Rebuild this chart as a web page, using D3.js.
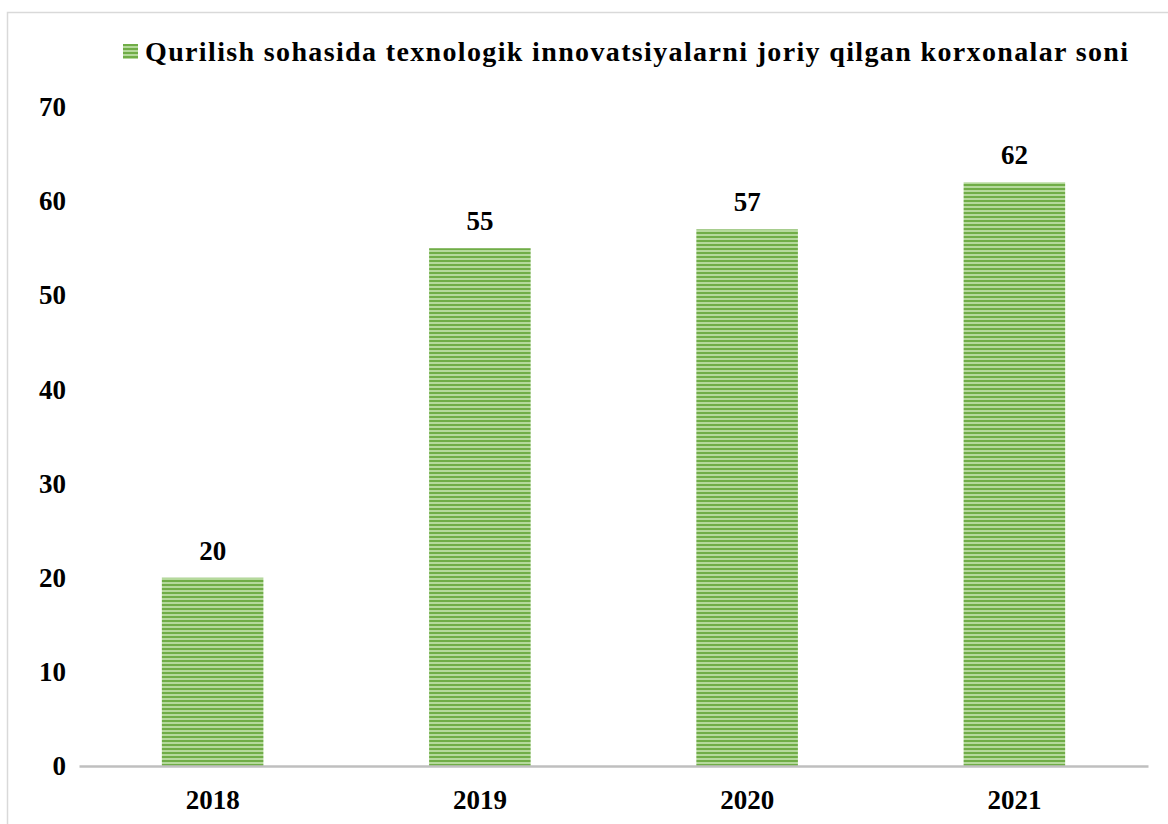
<!DOCTYPE html>
<html lang="uz">
<head>
<meta charset="UTF-8">
<title>Qurilish sohasida texnologik innovatsiyalar</title>
<script src="https://cdn.jsdelivr.net/npm/d3@7"></script>
<style>
  body { margin: 0; background: #fff; }
  svg text { font-family: "Liberation Serif", "Times New Roman", "DejaVu Serif", serif; font-weight: bold; fill: #000; }
</style>
</head>
<body>
<svg id="chart" width="1168" height="824"></svg>
<script>
// data
var years = ["2018", "2019", "2020", "2021"];
var counts = [20, 55, 57, 62];
var yTicks = [0, 10, 20, 30, 40, 50, 60, 70];
var seriesName = "Qurilish sohasida texnologik innovatsiyalarni joriy qilgan korxonalar soni";

var svg = d3.select("#chart");

// outer frame
svg.append("rect")
    .attr("x", 7.5).attr("y", 12.5)
    .attr("width", 1170).attr("height", 830)
    .attr("fill", "none")
    .attr("stroke", "#d9d9d9")
    .attr("stroke-width", 1.5);

// striped fill
var defs = svg.append("defs");
var pat = defs.append("pattern")
    .attr("id", "stripes")
    .attr("patternUnits", "userSpaceOnUse")
    .attr("width", 8).attr("height", 4);
pat.append("rect").attr("width", 8).attr("height", 4).attr("fill", "#b5d99c");
pat.append("rect").attr("y", 0).attr("width", 8).attr("height", 2).attr("fill", "#70ad47");

var x = d3.scaleBand()
    .domain(years)
    .range([79, 1148])
    .paddingInner(0.62)
    .paddingOuter(0.31);

var y = d3.scaleLinear()
    .domain([0, 70])
    .range([766, 107]);

// y tick labels (no axis line)
var yAxis = svg.append("g")
    .attr("transform", "translate(66,0)")
    .call(d3.axisLeft(y).tickValues(yTicks).tickSize(0).tickPadding(0));
yAxis.select(".domain").remove();
yAxis.selectAll("text").attr("font-size", 27);

// bars
svg.selectAll("rect.bar")
    .data(counts)
    .join("rect")
    .attr("class", "bar")
    .attr("x", function(d, i) { return x(years[i]); })
    .attr("y", function(d) { return y(d); })
    .attr("width", x.bandwidth())
    .attr("height", function(d) { return y(0) - y(d); })
    .attr("fill", "url(#stripes)");

// value labels
svg.selectAll("text.val")
    .data(counts)
    .join("text")
    .attr("class", "val")
    .attr("x", function(d, i) { return x(years[i]) + x.bandwidth() / 2; })
    .attr("y", function(d) { return y(d) - 18; })
    .attr("text-anchor", "middle")
    .attr("font-size", 27)
    .text(function(d) { return d; });

// x axis
var xAxis = svg.append("g")
    .attr("transform", "translate(0,766)")
    .call(d3.axisBottom(x).tickSize(0).tickPadding(24));
xAxis.select(".domain")
    .attr("stroke", "#bfbfbf")
    .attr("stroke-width", 2.5);
xAxis.selectAll("text").attr("font-size", 27);

// legend / title
var leg = svg.append("g").attr("transform", "translate(123,44)");
leg.append("rect")
    .attr("width", 15).attr("height", 15)
    .attr("fill", "url(#stripes)");
leg.append("text")
    .attr("x", 22).attr("y", 17)
    .attr("font-size", 28)
    .attr("textLength", 983)
    .attr("lengthAdjust", "spacing")
    .text(seriesName);
</script>
</body>
</html>
